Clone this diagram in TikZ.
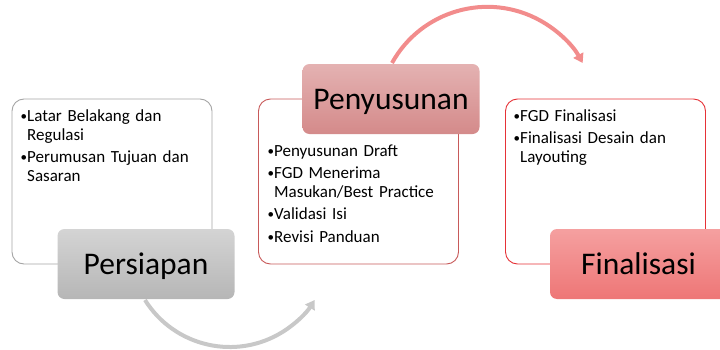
\documentclass[tikz,border=0pt]{standalone}
\usepackage{fontspec}
\setmainfont{Carlito}
\usetikzlibrary{arrows.meta}
\definecolor{prepline}{RGB}{165,165,165}
\definecolor{preptop}{RGB}{212,212,212}
\definecolor{prepbot}{RGB}{182,182,182}
\definecolor{draftline}{RGB}{200,90,90}
\definecolor{drafttop}{RGB}{228,178,178}
\definecolor{draftbot}{RGB}{212,138,138}
\definecolor{finline}{RGB}{230,50,55}
\definecolor{fintop}{RGB}{245,160,160}
\definecolor{finbot}{RGB}{238,118,118}
\definecolor{flowgray}{RGB}{200,200,200}
\definecolor{flowred}{RGB}{242,140,140}

\newcommand\bitem[1]{\par\hangindent=7pt\hangafter=1\noindent
  \makebox[7pt][l]{\hspace{0.5pt}\raisebox{1pt}{\fontsize{13}{13}\selectfont•}}#1\par}

\begin{document}
\begin{tikzpicture}[x=1pt, y=1pt,
    frame/.style={rectangle, rounded corners=12pt, fill=white, line width=0.9pt,
              minimum width=200pt, minimum height=165pt},
    head/.style={rectangle, rounded corners=7pt, minimum width=177pt,
              minimum height=70pt, text height=22pt, text depth=2pt,
              font=\fontsize{31.5}{36}\selectfont},
    lst/.style={anchor=base west, inner sep=0pt, text width=190pt, align=left,
              font=\fontsize{17}{18.5}\selectfont,
              execute at begin node={\setlength{\parskip}{4pt}}},
    flow/.style={line width=4pt, -{Triangle[length=9pt,width=11pt]}}]
  \useasboundingbox (0,0) rectangle (720,349);

  % ---------- frames ------------------------------------------------------
  \node[frame, draw=prepline]  (prepbox)  at (112,167.5) {};
  \node[frame, draw=draftline] (draftbox) at (358.5,167.5) {};
  \node[frame, draw=finline]   (finbox)   at (605.5,167.5) {};

  % ---------- flow arrows -------------------------------------------------
  \coordinate (gs) at (145,49);
  \coordinate (rs) at (392,286);
  \draw[flow, draw=flowgray] (gs) arc[start angle=212, end angle=328, radius=100];
  \draw[flow, draw=flowred]  (rs) arc[start angle=151, end angle=29, radius=109];

  % ---------- headings ----------------------------------------------------
  \node[head, top color=preptop, bottom color=prepbot]   (prep)  at (146,85)    {Persiapan};
  \node[head, top color=drafttop, bottom color=draftbot] (draft) at (391,250)   {Penyusunan};
  \node[head, top color=fintop, bottom color=finbot]     (fin)   at (638.5,85)  {Finalisasi};

  % ---------- bullet lists (first \par leaves one empty line on top) -----
  \node[lst] (preplist) at (20,250)
    {\bitem{Latar Belakang dan\newline Regulasi}\bitem{Perumusan Tujuan dan\newline Sasaran}};
  \node[lst] (draftlist) at (267,215.5)
    {\bitem{Penyusunan Draft}\bitem{FGD Menerima\newline Masukan/Best Practice}%
     \bitem{Validasi Isi}\bitem{Revisi Panduan}};
  \node[lst] (finlist) at (513,250.5)
    {\bitem{FGD Finalisasi}\bitem{Finalisasi Desain dan\newline Layouting}};
\end{tikzpicture}
\end{document}
